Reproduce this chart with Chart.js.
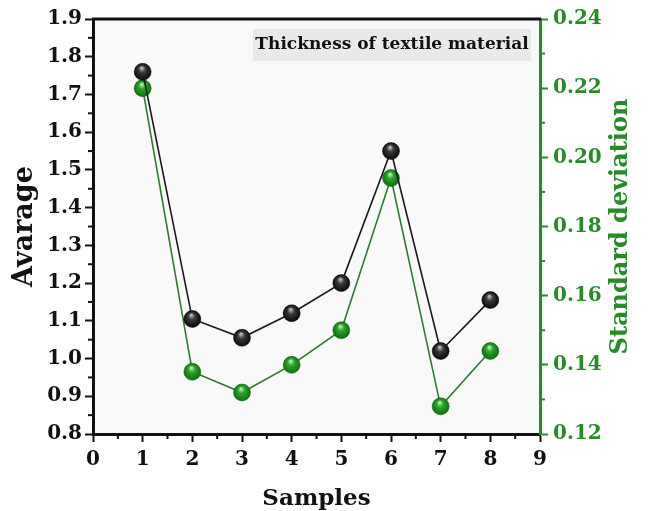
<!DOCTYPE html>
<html><head><meta charset="utf-8">
<script src="https://cdn.jsdelivr.net/npm/chart.js@4/dist/chart.umd.min.js"></script>
<style>html,body{margin:0;padding:0;background:#fff}#wrap{width:651px;height:511px;position:relative}</style>
</head><body><div id="wrap"><canvas id="c" width="651" height="511"></canvas></div>
<script>
const samples = [1, 2, 3, 4, 5, 6, 7, 8];
const averageValues = [1.76, 1.105, 1.055, 1.12, 1.20, 1.55, 1.02, 1.155];
const stdDevValues = [0.220, 0.138, 0.132, 0.140, 0.150, 0.194, 0.128, 0.144];
const xTicks = [0, 1, 2, 3, 4, 5, 6, 7, 8, 9];
const leftTicks = [0.8, 0.9, 1.0, 1.1, 1.2, 1.3, 1.4, 1.5, 1.6, 1.7, 1.8, 1.9];
const rightTicks = [0.12, 0.14, 0.16, 0.18, 0.20, 0.22, 0.24];
const chartTitle = 'Thickness of textile material';
const xTitle = 'Samples';
const leftTitle = 'Avarage';
const rightTitle = 'Standard deviation';

const FONT = "'DejaVu Serif', serif";
const GREEN = '#2a8a2a';

function sphere(hi, mid, dark) {
  return (ctx) => {
    if (ctx.type !== 'data') return dark;
    const chart = ctx.chart;
    const xs = chart.scales.x, ys = chart.scales[ctx.dataset.yAxisID];
    if (!xs || !ys) return dark;
    const px = xs.getPixelForValue(ctx.parsed.x), py = ys.getPixelForValue(ctx.parsed.y);
    if (!isFinite(px) || !isFinite(py)) return dark;
    const g = chart.ctx.createRadialGradient(px - 1, py - 4, 0.5, px, py, 9);
    g.addColorStop(0, hi);
    g.addColorStop(0.35, mid);
    g.addColorStop(1, dark);
    return g;
  };
}

const decorations = {
  id: 'decorations',
  afterDraw(chart) {
    const {ctx, chartArea: a, scales} = chart;
    ctx.save();
    ctx.lineWidth = 2;
    ctx.strokeStyle = '#111';
    for (let i = 0; i < xTicks.length - 1; i++) {
      const p = scales.x.getPixelForValue((xTicks[i] + xTicks[i + 1]) / 2);
      ctx.beginPath(); ctx.moveTo(p, a.bottom); ctx.lineTo(p, a.bottom + 5); ctx.stroke();
    }
    for (let i = 0; i < leftTicks.length - 1; i++) {
      const p = scales.y.getPixelForValue((leftTicks[i] + leftTicks[i + 1]) / 2);
      ctx.beginPath(); ctx.moveTo(a.left, p); ctx.lineTo(a.left - 5, p); ctx.stroke();
    }
    ctx.strokeStyle = GREEN;
    for (let i = 0; i < rightTicks.length - 1; i++) {
      const p = scales.y1.getPixelForValue((rightTicks[i] + rightTicks[i + 1]) / 2);
      ctx.beginPath(); ctx.moveTo(a.right, p); ctx.lineTo(a.right + 5, p); ctx.stroke();
    }
    // top frame line
    ctx.strokeStyle = '#111';
    ctx.lineWidth = 3;
    ctx.beginPath(); ctx.moveTo(a.left - 1, a.top); ctx.lineTo(a.right + 1, a.top); ctx.stroke();
    // title box
    ctx.fillStyle = '#e9e9e9';
    ctx.fillRect(253, 29, 278, 32);
    ctx.fillStyle = '#111';
    ctx.font = "bold 17px " + FONT;
    ctx.textAlign = 'center';
    ctx.textBaseline = 'middle';
    ctx.fillText(chartTitle, 392, 45);
    // right axis title, reading bottom to top
    ctx.translate(621, (a.top + a.bottom) / 2);
    ctx.rotate(-Math.PI / 2);
    ctx.fillStyle = GREEN;
    ctx.font = "bold 24px " + FONT;
    ctx.fillText(rightTitle, 0, 0);
    ctx.restore();
  }
};

const bgPlugin = {
  id: 'bg',
  beforeDraw(chart) {
    const {ctx, chartArea: a} = chart;
    ctx.save();
    ctx.fillStyle = '#fff';
    ctx.fillRect(0, 0, chart.width, chart.height);
    ctx.fillStyle = '#f9f9f9';
    ctx.fillRect(a.left, a.top, a.right - a.left, a.bottom - a.top);
    ctx.restore();
  }
};

new Chart(document.getElementById('c'), {
  type: 'line',
  data: {
    datasets: [
      {
        label: leftTitle,
        data: samples.map((s, i) => ({x: s, y: averageValues[i]})),
        yAxisID: 'y',
        borderColor: '#1a1a1a',
        borderWidth: 1.6,
        pointRadius: 8.5,
        pointHoverRadius: 8.5,
        pointBorderWidth: 0.5,
        pointBorderColor: '#000',
        pointBackgroundColor: sphere('#bdbdbd', '#3a3a3a', '#050505'),
        tension: 0
      },
      {
        label: rightTitle,
        data: samples.map((s, i) => ({x: s, y: stdDevValues[i]})),
        yAxisID: 'y1',
        borderColor: '#2f7a2f',
        borderWidth: 1.6,
        pointRadius: 8.5,
        pointHoverRadius: 8.5,
        pointBorderWidth: 0.5,
        pointBorderColor: '#0f5f0f',
        pointBackgroundColor: sphere('#b8f0b8', '#2aa52a', '#0d6a0d'),
        tension: 0
      }
    ]
  },
  options: {
    responsive: false,
    devicePixelRatio: 1,
    animation: false,
    layout: {padding: {top: 19, left: 0, right: 0, bottom: 0}},
    plugins: {legend: {display: false}, tooltip: {enabled: false}},
    scales: {
      x: {
        type: 'linear',
        min: 0, max: 9,
        afterFit: (s) => { s.height = 77; },
        afterBuildTicks: (s) => { s.ticks = xTicks.map(v => ({value: v})); },
        ticks: {color: '#111', font: {family: FONT, size: 20, weight: 'bold'}, padding: 6, maxRotation: 0},
        grid: {display: true, drawOnChartArea: false, drawTicks: true, tickLength: 8, tickWidth: 2, color: '#111'},
        border: {display: true, color: '#111', width: 3},
        title: {display: true, text: xTitle, color: '#111', font: {family: FONT, size: 23, weight: 'bold'}, padding: {top: 0, bottom: -2}}
      },
      y: {
        type: 'linear',
        position: 'left',
        min: 0.8, max: 1.9,
        afterFit: (s) => { s.width = 93; },
        afterBuildTicks: (s) => { s.ticks = leftTicks.map(v => ({value: v})); },
        ticks: {color: '#111', font: {family: FONT, size: 20, weight: 'bold'}, padding: 3, callback: (v) => Number(v).toFixed(1)},
        grid: {display: true, drawOnChartArea: false, drawTicks: true, tickLength: 8, tickWidth: 2, color: '#111'},
        border: {display: true, color: '#111', width: 3},
        title: {display: true, text: leftTitle, color: '#111', font: {family: FONT, size: 27, weight: 'bold'}, padding: {top: 9, bottom: 0}}
      },
      y1: {
        type: 'linear',
        position: 'right',
        min: 0.12, max: 0.24,
        afterFit: (s) => { s.width = 111; },
        afterBuildTicks: (s) => { s.ticks = rightTicks.map(v => ({value: v})); },
        ticks: {color: GREEN, font: {family: FONT, size: 20, weight: 'bold'}, padding: 5, callback: (v) => Number(v).toFixed(2)},
        grid: {display: true, drawOnChartArea: false, drawTicks: true, tickLength: 8, tickWidth: 2, color: GREEN},
        border: {display: true, color: GREEN, width: 3},
        title: {display: false, text: rightTitle}
      }
    }
  },
  plugins: [bgPlugin, decorations]
});
</script>
</body></html>
